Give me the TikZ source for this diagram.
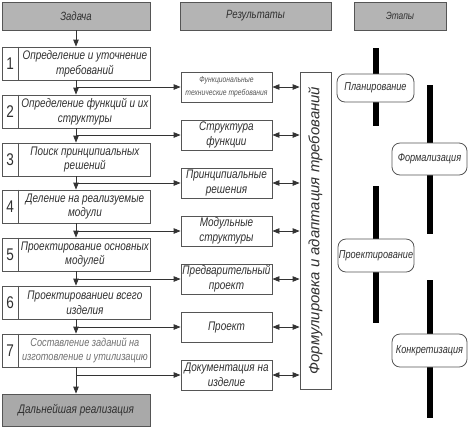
\documentclass[tikz,border=0pt]{standalone}
\usepackage{fontspec}
\setmainfont{Liberation Sans}
\newfontfamily\nf{Liberation Sans}[FakeStretch=0.8]
\usetikzlibrary{arrows.meta}
\definecolor{hdr}{HTML}{B4B4B4}
\definecolor{fin}{HTML}{A9A9A9}
\definecolor{bord}{HTML}{555555}
\definecolor{txt}{HTML}{303030}
\definecolor{ltxt}{HTML}{707070}
\begin{document}
\begin{tikzpicture}[x=1bp,y=-1bp,
 hdrbox/.style={draw=bord, fill=hdr, line width=0.8bp, inner sep=0, font=\nf\itshape\fontsize{12}{14}\selectfont, text=txt},
 stepbox/.style={draw=bord, line width=0.8bp, minimum width=148bp, minimum height=33bp, inner sep=0},
 numlbl/.style={font=\nf\fontsize{17}{17}\selectfont, text=txt, inner sep=0},
 steptxt/.style={font=\nf\itshape\fontsize{12.5}{15}\selectfont, text=txt, align=center, inner sep=0},
 resbox/.style={draw=bord, line width=0.8bp, minimum width=91bp, minimum height=30bp, inner sep=0, font=\nf\itshape\fontsize{12.5}{15}\selectfont, text=txt, align=center},
 flow/.style={draw=black!80, line width=0.8bp, -{Triangle[length=7bp,width=5.5bp]}},
 dflow/.style={draw=black!80, line width=0.8bp, {Triangle[length=7bp,width=5.5bp]}-{Triangle[length=7bp,width=5.5bp]}},
 stagebar/.style={line width=6bp, draw=black},
 stagebox/.style={draw=bord, fill=white, rounded corners=8bp, line width=0.8bp, font=\nf\itshape\fontsize{11.5}{13}\selectfont, text=txt, inner sep=0}
]
\useasboundingbox (0,0) rectangle (469,427);

% headers
\node[hdrbox, minimum width=148bp, minimum height=28bp] (h1) at (76,16) {Задача};
\node[hdrbox, minimum width=151bp, minimum height=28bp] (h2) at (255.5,16) {Результаты};
\node[hdrbox, minimum width=92bp, minimum height=28bp, font=\nf\itshape\fontsize{10.5}{12}\selectfont] (h3) at (400,16) {Этапы};

% steps
\foreach \k/\c/\t in {1/63.5/{Определение и уточнение\\требований},
                      2/111.5/{Определение функций и их\\структуры},
                      3/159.5/{Поиск принципиальных\\решений},
                      4/206.5/{Деление на реализуемые\\модули},
                      5/254.5/{Проектирование основных\\модулей},
                      6/302.5/{Проектированиеи всего\\изделия}}{
  \node[stepbox] (s\k) at (76,\c) {};
  \draw[draw=bord, line width=0.8bp] ([xshift=17bp]s\k.north west) -- ([xshift=17bp]s\k.south west);
  \node[numlbl] (n\k) at ([xshift=8.5bp]s\k.west) {\k};
  \node[steptxt] (t\k) at ([xshift=-65.5bp]s\k.east) {\t};
}
\node[stepbox] (s7) at (76,350.5) {};
\draw[draw=bord, line width=0.8bp] ([xshift=17bp]s7.north west) -- ([xshift=17bp]s7.south west);
\node[numlbl] (n7) at ([xshift=8.5bp]s7.west) {7};
\node[steptxt, text=ltxt, font=\nf\itshape\fontsize{11.5}{14.5}\selectfont] (t7) at ([xshift=-65.5bp]s7.east) {Составление заданий на\\изготовление и утилизацию};

\node[stepbox, fill=fin, minimum height=32bp, font=\nf\itshape\fontsize{12.5}{15}\selectfont, text=txt] (fin) at (76,410) {Дальнейшая реализация};

% results
\node[resbox, font=\nf\itshape\fontsize{8.5}{13}\selectfont, text=bord] (r1) at (226.5,87) {Функциональные\\технические требования};
\node[resbox] (r2) at (226.5,135) {Структура\\функции};
\node[resbox] (r3) at (226.5,183) {Принципиальные\\решения};
\node[resbox] (r4) at (226.5,231) {Модульные\\структуры};
\node[resbox] (r5) at (226.5,279) {Предварительный\\проект};
\node[resbox] (r6) at (226.5,327) {Проект};
\node[resbox] (r7) at (226.5,375) {Документация на\\изделие};

% big box
\node[draw=bord, line width=0.8bp, minimum width=31bp, minimum height=317bp, inner sep=0] (F) at (315.5,230.5) {};
\node[rotate=90, font=\itshape\fontsize{15}{17}\selectfont, text=txt] (Ft) at (F.center) {Формулировка и адаптация требований};

% vertical flow
\draw[flow] (h1.south) -- (s1.north);
\foreach \a/\b in {1/2,2/3,3/4,4/5,5/6,6/7}{
  \draw[flow] (s\a.south) -- (s\b.north);
}
\draw[flow] (s7.south) -- (fin.north);

% branches
\foreach \k in {1,...,7}{
  \draw[flow] (s\k.south |- r\k.west) -- (r\k.west);
  \draw[dflow] (r\k.east) -- (r\k.east -| F.west);
}

% stages
\coordinate (b1t) at (376,48);  \coordinate (b1b) at (376,126);
\coordinate (b2t) at (430,85);  \coordinate (b2b) at (430,234);
\coordinate (b3t) at (376,186); \coordinate (b3b) at (376,323);
\coordinate (b4t) at (430,280); \coordinate (b4b) at (430,418);
\draw[stagebar] (b1t) -- (b1b);
\draw[stagebar] (b2t) -- (b2b);
\draw[stagebar] (b3t) -- (b3b);
\draw[stagebar] (b4t) -- (b4b);
\node[stagebox, minimum width=77bp, minimum height=28bp] (p1) at (375.5,88) {Планирование};
\node[stagebox, minimum width=75bp, minimum height=32bp] (p2) at (429.5,159) {Формализация};
\node[stagebox, minimum width=76bp, minimum height=33bp] (p3) at (376,255.5) {Проектирование};
\node[stagebox, minimum width=75bp, minimum height=33bp] (p4) at (429.5,350.5) {Конкретизация};
\end{tikzpicture}
\end{document}
